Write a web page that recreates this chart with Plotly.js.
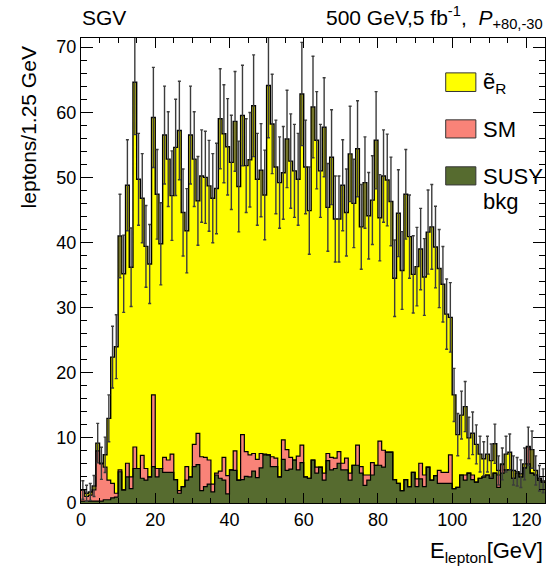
<!DOCTYPE html>
<html><head><meta charset="utf-8">
<script src="https://cdn.plot.ly/plotly-3.0.1.min.js"></script>
<style>body{margin:0;background:#fff}</style>
</head><body><div id="chart" style="width:549px;height:566px"></div>
<script>
// bin lower edges (GeV), 1 GeV bins from 0 to 125
const binEdges = [0,1,2,3,4,5,6,7,8,9,10,11,12,13,14,15,16,17,18,19,20,21,22,23,24,25,26,27,28,29,30,31,32,33,34,35,36,37,38,39,40,41,42,43,44,45,46,47,48,49,50,51,52,53,54,55,56,57,58,59,60,61,62,63,64,65,66,67,68,69,70,71,72,73,74,75,76,77,78,79,80,81,82,83,84,85,86,87,88,89,90,91,92,93,94,95,96,97,98,99,100,101,102,103,104,105,106,107,108,109,110,111,112,113,114,115,116,117,118,119,120,121,122,123,124,125];

// SUSY background (bottom of stack)
const susy = [0.3,0.3,0.3,0.3,0.3,0.3,0.5,0.5,0.8,0.9,
4.8,2.0,4.0,2.2,5.3,5.3,3.8,3.5,4.0,5.6,
4.0,5.3,4.7,4.7,4.7,3.6,1.5,2.5,3.5,4.0,
5.6,5.9,1.9,2.5,2.9,1.7,4.3,3.8,3.5,1.4,
5.1,5.0,3.5,3.6,4.1,4.0,4.9,3.9,5.4,7.4,
7.4,5.6,5.6,4.0,6.7,5.0,5.2,6.6,5.1,6.2,
4.0,3.8,6.6,4.6,5.5,3.5,6.5,5.1,5.3,6.1,
5.1,5.1,3.5,5.8,5.8,4.6,2.7,3.5,4.3,5.8,
5.8,5.5,7.8,7.8,3.6,3.0,1.9,3.6,2.5,4.7,
2.5,3.7,2.5,5.5,3.5,4.2,3.0,3.0,3.0,3.0,
2.2,2.4,4.3,3.5,4.6,3.6,3.2,3.8,4.0,4.3,
3.8,4.6,2.4,4.6,5.1,5.1,3.8,4.6,4.0,5.4,
6.0,4.6,4.3,3.5,3.2];

// Standard Model background (middle of stack)
const sm = [1.7,0.7,0.9,1.7,7.7,5.7,5.0,3.0,2.2,0.6,
0.3,0.0,2.1,1.8,3.3,0.0,3.5,1.8,0.0,11.0,
1.3,0.0,2.3,1.9,2.8,0.0,0.4,0.0,2.1,0.0,
3.4,4.8,5.2,4.5,3.7,1.2,0.3,1.1,3.5,2.8,
0.0,3.0,0.0,6.9,3.8,3.4,2.7,2.8,2.2,0.1,
0.0,1.5,1.3,0.0,3.0,3.2,1.8,0.0,2.1,2.7,
0.0,0.0,0.0,0.9,0.0,1.1,1.1,1.9,1.6,1.8,
1.0,1.8,1.1,0.0,3.1,1.0,1.6,0.8,1.9,0.0,
3.7,2.6,0.0,0.0,0.0,0.0,0.0,0.0,0.0,0.0,
1.2,2.4,1.8,0.0,0.0,0.0,2.0,1.7,1.7,4.4,
0.0,0.0,0.0,0.8,0.0,0.7,0.0,0.0,0.0,0.0,
0.0,0.0,1.9,1.3,0.0,0.0,0.0,0.0,0.0,0.0,
2.6,0.0,0.0,0.0,0.0];

// selectron signal (top of stack)
const signal = [0.0,0.5,0.5,0.6,1.2,0.1,1.9,9.5,19.4,22.5,
35.9,33.2,42.7,32.2,56.0,44.4,39.5,34.1,32.7,42.6,
42.1,34.5,49.5,46.2,39.7,51.0,55.3,42.1,36.2,52.5,
43.8,35.7,43.1,43.0,42.1,43.9,43.7,54.1,49.7,50.5,
47.2,50.6,45.1,49.0,43.9,45.3,53.4,43.0,43.5,39.8,
56.7,51.1,44.7,45.2,41.0,47.7,45.5,44.4,42.5,53.9,
47.6,41.1,54.2,50.2,45.5,53.1,37.8,46.1,36.7,35.7,
42.7,37.7,49.0,40.2,45.5,36.8,44.9,39.8,40.3,49.9,
34.3,42.1,41.8,38.5,30.9,41.5,33.8,43.8,38.4,30.4,
32.6,32.9,30.4,36.1,38.9,35.1,31.0,28.9,24.3,21.1,
14.4,8.1,9.2,10.5,5.4,6.4,5.8,3.7,2.8,3.2,
2.7,4.5,0.7,0.1,2.4,2.7,1.2,0.2,0.5,0.6,
0.1,3.6,0.7,0.3,0.2];

const nb = susy.length;
const centers = [], cumSusy = [], cumSM = [], total = [], errs = [];
for (let i = 0; i < nb; i++) {
  centers.push((binEdges[i] + binEdges[i+1]) / 2);
  cumSusy.push(susy[i]);
  cumSM.push(susy[i] + sm[i]);
  const t = susy[i] + sm[i] + signal[i];
  total.push(t);
  errs.push(Math.sqrt(t));
}
const stepY = a => a.concat([a[a.length-1]]);

const GREEN = '#566b2f', SALMON = '#f98378', YELLOW = '#ffff00';

const traces = [
  {type:'bar', x:centers, y:susy, width:1, marker:{color:GREEN, line:{width:0}}, hoverinfo:'skip'},
  {type:'bar', x:centers, y:sm, width:1, marker:{color:SALMON, line:{width:0}}, hoverinfo:'skip'},
  {type:'bar', x:centers, y:signal, width:1, marker:{color:YELLOW, line:{width:0}}, hoverinfo:'skip'},
  {type:'scatter', mode:'lines', x:binEdges, y:stepY(cumSusy), line:{shape:'hv', color:'black', width:1.2}, hoverinfo:'skip'},
  {type:'scatter', mode:'lines', x:binEdges, y:stepY(cumSM), line:{shape:'hv', color:'black', width:1.2}, hoverinfo:'skip'},
  {type:'scatter', mode:'lines', x:binEdges, y:stepY(total), line:{shape:'hv', color:'black', width:1.4}, hoverinfo:'skip'},
  {type:'scatter', mode:'markers', x:centers, y:total, marker:{size:1, color:'rgba(0,0,0,0)'},
   error_y:{type:'data', array:errs, visible:true, color:'#3c3c3c', thickness:1.4, width:1.5}, hoverinfo:'skip'}
];

const FONT = 'Liberation Sans, Arial, Helvetica, sans-serif';
const axisCommon = {
  ticks:'inside', tickcolor:'black', tickwidth:1, mirror:'ticks', showline:true,
  linecolor:'black', linewidth:1, showgrid:false, zeroline:false,
  tickfont:{family:FONT, size:18, color:'black'}
};

const layout = {
  width:549, height:566,
  margin:{l:81, r:4, t:38, b:63},
  paper_bgcolor:'white', plot_bgcolor:'white',
  barmode:'stack', bargap:0, showlegend:false,
  font:{family:FONT, size:18, color:'black'},
  xaxis:Object.assign({}, axisCommon, {range:[0,125], tick0:0, dtick:20, ticklen:10,
    minor:{dtick:5, ticks:'inside', ticklen:5, tickcolor:'black'}}),
  yaxis:Object.assign({}, axisCommon, {range:[0,71.4], tick0:0, dtick:10, ticklen:12,
    minor:{dtick:2, ticks:'inside', ticklen:6, tickcolor:'black'}}),
  shapes:[
    {type:'rect', xref:'paper', yref:'paper', x0:0.786, x1:0.851, y0:0.885, y1:0.925, fillcolor:YELLOW, line:{color:'#333', width:1}},
    {type:'rect', xref:'paper', yref:'paper', x0:0.786, x1:0.851, y0:0.785, y1:0.824, fillcolor:SALMON, line:{color:'#333', width:1}},
    {type:'rect', xref:'paper', yref:'paper', x0:0.786, x1:0.851, y0:0.684, y1:0.723, fillcolor:GREEN, line:{color:'#333', width:1}}
  ],
  annotations:[
    {xref:'paper', yref:'paper', x:0.862, y:0.903, xanchor:'left', yanchor:'middle', showarrow:false,
     text:'ẽ<sub>R</sub>', font:{family:FONT, size:22}},
    {xref:'paper', yref:'paper', x:0.862, y:0.804, xanchor:'left', yanchor:'middle', showarrow:false,
     text:'SM', font:{family:FONT, size:22}},
    {xref:'paper', yref:'paper', x:0.862, y:0.703, xanchor:'left', yanchor:'middle', showarrow:false,
     text:'SUSY', font:{family:FONT, size:22}},
    {xref:'paper', yref:'paper', x:0.862, y:0.648, xanchor:'left', yanchor:'middle', showarrow:false,
     text:'bkg', font:{family:FONT, size:22}},
    {xref:'paper', yref:'paper', x:-0.003, y:1.045, xanchor:'left', yanchor:'middle', showarrow:false,
     text:'SGV', font:{family:FONT, size:21}},
    {xref:'paper', yref:'paper', x:1, y:1.045, xanchor:'right', yanchor:'middle', showarrow:false,
     text:'500 GeV,5 fb<sup>-1</sup>,  <i>P</i><sub>+80,-30</sub>', font:{family:FONT, size:21}},
    {xref:'paper', yref:'paper', x:-0.114, y:0.808, xanchor:'center', yanchor:'middle', showarrow:false, textangle:-90,
     text:'leptons/1.25 GeV', font:{family:FONT, size:21}},
    {xref:'paper', yref:'paper', x:1, y:-0.105, xanchor:'right', yanchor:'middle', showarrow:false,
     text:'E<sub>lepton</sub>[GeV]', font:{family:FONT, size:22}}
  ]
};

Plotly.newPlot('chart', traces, layout, {displayModeBar:false, staticPlot:true});
</script>
</body></html>
